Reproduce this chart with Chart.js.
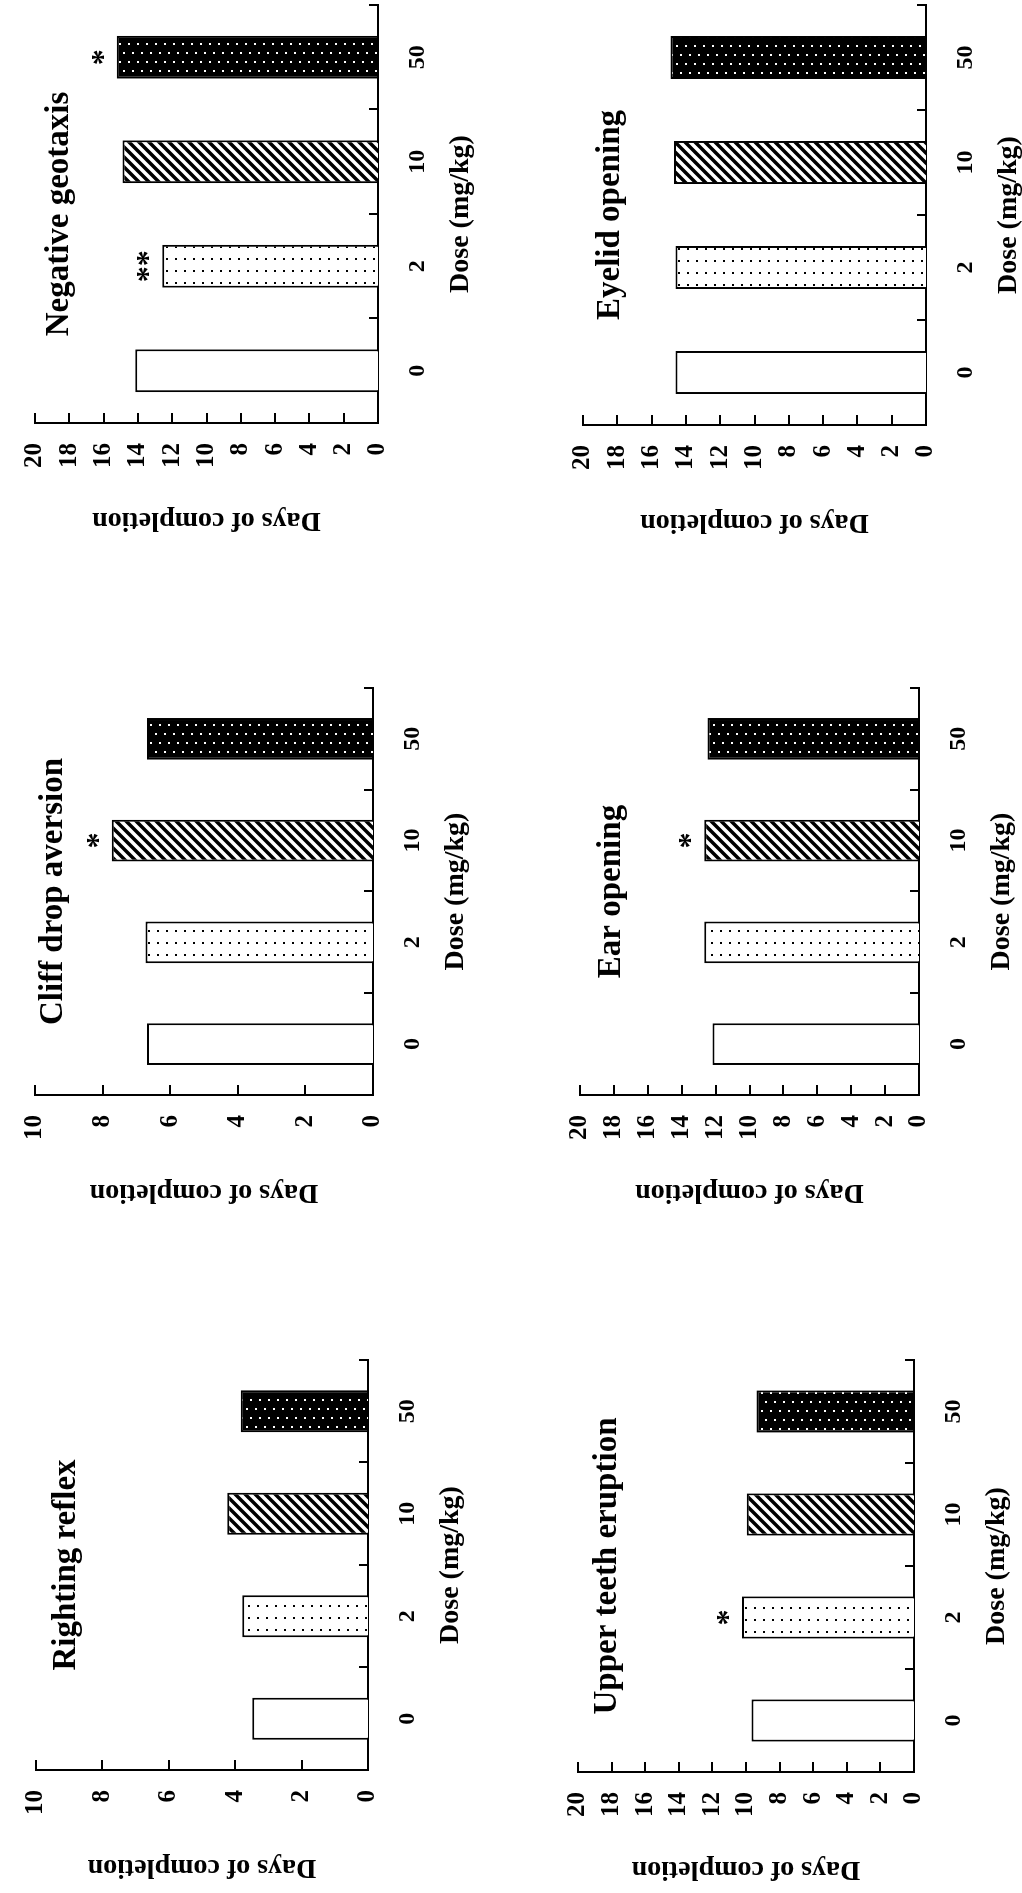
<!DOCTYPE html>
<html lang="en">
<head>
<meta charset="UTF-8">
<title>Days of completion by dose</title>
<script src="https://cdn.jsdelivr.net/npm/chart.js"></script>
<style>
  html, body { margin: 0; padding: 0; background: #fff; overflow: hidden; }
  /* the figure is laid out landscape, then turned a quarter turn to the left */
  #page { position: absolute; left: 0; top: 0; width: 1893px; height: 1022px; background: #fff;
          transform-origin: 0 0; transform: translate(0, 1893px) rotate(-90deg); }
  #page canvas { position: absolute; }
</style>
</head>
<body>
<div id="page"></div>
<script>
// data
const doses = ['0', '2', '10', '50'];
const titles = ['Righting reflex', 'Cliff drop aversion', 'Negative geotaxis',
                'Upper teeth eruption', 'Ear opening', 'Eyelid opening'];
const yMax = [10, 10, 20, 20, 20, 20];

const righting      = [3.49, 3.79, 4.24, 3.83];
const cliffDrop     = [6.69, 6.73, 7.73, 6.69];
const negGeotaxis   = [14.16, 12.58, 14.9, 15.24];
const upperTeeth    = [9.67, 10.24, 9.95, 9.38];
const earOpening    = [12.19, 12.67, 12.67, 12.48];
const eyelidOpening = [14.6, 14.6, 14.7, 14.9];

const rightingSig = ['', '', '', ''];
const cliffSig    = ['', '', '*', ''];
const negGeoSig   = ['', '**', '', '*'];
const teethSig    = ['', '*', '', ''];
const earSig      = ['', '', '*', ''];
const eyelidSig   = ['', '', '', ''];

const series = [righting, cliffDrop, negGeotaxis, upperTeeth, earOpening, eyelidOpening];
const stars  = [rightingSig, cliffSig, negGeoSig, teethSig, earSig, eyelidSig];

// plot area of each panel in the unrotated figure: left, right, top, bottom
const boxes = [
  [123, 533, 23, 368],
  [798, 1205, 22, 373],
  [1470, 1888, 22, 378],
  [121, 533, 565, 914],
  [798, 1205, 567, 919],
  [1468, 1888, 570, 926]
];
const titleDrop = [32, 20, 26, 31, 33, 29];

Chart.defaults.font.family = '"Liberation Serif", "Times New Roman", serif';
Chart.defaults.color = '#000';

function makePattern(w, h, draw) {
  const c = document.createElement('canvas');
  c.width = w; c.height = h;
  const g = c.getContext('2d');
  draw(g);
  return g.createPattern(c, 'repeat');
}

const sparseDots = makePattern(12, 9, g => {
  g.fillStyle = '#fff'; g.fillRect(0, 0, 12, 9);
  g.fillStyle = '#000'; g.fillRect(5, 4, 2, 2);
});
const hatch = makePattern(10, 10, g => {
  g.fillStyle = '#fff'; g.fillRect(0, 0, 10, 10);
  g.strokeStyle = '#000'; g.lineWidth = 3.5;
  g.beginPath();
  g.moveTo(-5, 5); g.lineTo(5, -5);
  g.moveTo(0, 10); g.lineTo(10, 0);
  g.moveTo(5, 15); g.lineTo(15, 5);
  g.stroke();
});
const denseDots = makePattern(18, 9, g => {
  g.fillStyle = '#000'; g.fillRect(0, 0, 18, 9);
  g.fillStyle = '#fff';
  g.fillRect(4, 2, 2, 2);
  g.fillRect(13, 6, 2, 2);
});
const fills = ['#fff', sparseDots, hatch, denseDots];

// inward ticks, panel title and significance marks
const decor = {
  id: 'decor',
  afterDraw(chart, args, opts) {
    const {ctx, chartArea: a} = chart;
    const x = chart.scales.x, y = chart.scales.y;
    ctx.save();
    ctx.strokeStyle = '#000';
    ctx.lineWidth = 2;
    ctx.beginPath();
    for (let v = 2; v <= opts.max; v += 2) {
      const py = Math.round(y.getPixelForValue(v));
      ctx.moveTo(a.left, py); ctx.lineTo(a.left + 10, py);
    }
    for (let i = 0; i < doses.length; i++) {
      const px = Math.round(x.getPixelForValue(i + 0.5));
      ctx.moveTo(px, a.bottom); ctx.lineTo(px, a.bottom - 9);
    }
    ctx.stroke();

    ctx.fillStyle = '#000';
    ctx.textAlign = 'center';
    ctx.textBaseline = 'alphabetic';
    ctx.font = 'bold 33px "Liberation Serif"';
    ctx.fillText(opts.title, (a.left + a.right) / 2, a.top + opts.drop + 7);

    ctx.font = 'bold 32px "Liberation Serif"';
    chart.getDatasetMeta(0).data.forEach((bar, i) => {
      if (opts.stars[i]) ctx.fillText(opts.stars[i], bar.x, bar.y - 4);
    });
    ctx.restore();
  }
};

const page = document.getElementById('page');

titles.forEach((title, k) => {
  const [l, r, t, b] = boxes[k];
  const cv = document.createElement('canvas');
  cv.width = r - l + 135;
  cv.height = b - t + 132;
  cv.style.left = (l - 130) + 'px';
  cv.style.top = (t - 22) + 'px';
  page.appendChild(cv);

  new Chart(cv, {
    type: 'bar',
    data: {
      labels: doses,
      datasets: [{
        data: series[k],
        backgroundColor: fills,
        borderColor: '#000',
        borderWidth: 2,
        barPercentage: 0.41,
        categoryPercentage: 1
      }]
    },
    options: {
      responsive: false,
      animation: false,
      events: [],
      layout: { padding: { left: 0, right: 5, top: 22, bottom: 0 } },
      plugins: {
        legend: { display: false },
        tooltip: { enabled: false },
        decor: { title: title, drop: titleDrop[k], max: yMax[k], stars: stars[k] }
      },
      scales: {
        x: {
          grid: { display: false, drawTicks: false },
          border: { display: true, color: '#000', width: 2 },
          ticks: { color: '#000', font: { size: 24, weight: 'bold' }, padding: 25, maxRotation: 0 },
          title: { display: true, text: 'Dose (mg/kg)', color: '#000',
                   font: { size: 28, weight: 'bold' }, padding: 10 },
          afterFit: s => { s.height = 110; }
        },
        y: {
          min: 0,
          max: yMax[k],
          grid: { display: false, drawTicks: false },
          border: { display: true, color: '#000', width: 2 },
          ticks: { stepSize: 2, color: '#000', font: { size: 25, weight: 'bold' }, padding: 20 },
          title: { display: true, text: 'Days of completion', color: '#000',
                   font: { size: 28, weight: 'bold' }, padding: 16 },
          afterFit: s => { s.width = 130; }
        }
      }
    },
    plugins: [decor]
  });
});
</script>
</body>
</html>
